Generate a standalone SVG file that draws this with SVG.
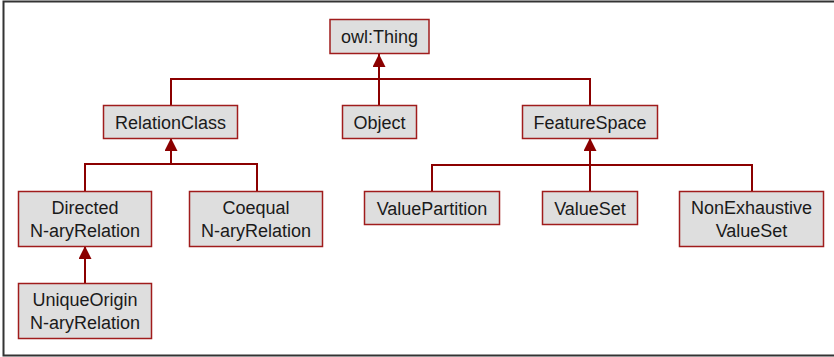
<svg xmlns="http://www.w3.org/2000/svg" width="834" height="357" viewBox="0 0 834 357">
<defs>
<style>
.box{fill:#dedede;stroke:#a01c1c;stroke-width:1.5}
.t{font-family:"Liberation Sans",Arial,sans-serif;font-size:18px;fill:#1a1a1a;text-anchor:middle}
.c{fill:none;stroke:#8b0000;stroke-width:2}
</style>
<marker id="arr" viewBox="0 0 13 13" refX="13" refY="6.5" markerWidth="13" markerHeight="13" markerUnits="userSpaceOnUse" orient="auto">
<path d="M0,0 L13,6.5 L0,13 Z" fill="#8b0000"/>
</marker>
</defs>
<rect width="834" height="357" fill="#fff"/>
<path d="M840,1.5 H3.5 V355.5 H840" fill="none" stroke="#333" stroke-width="2"/>
<g id="connectors">
<path class="c" d="M379,66 V105" stroke-width="1.5"/>
<path class="c" d="M171,105 V79 H590 V105"/>
<path class="c" d="M379,67 V54" marker-end="url(#arr)"/>
<path class="c" d="M85,191 V164 H257 V191"/>
<path class="c" d="M171,164 V138" marker-end="url(#arr)"/>
<path class="c" d="M432,191 V165 H752 V191"/>
<path class="c" d="M590,191 V138" marker-end="url(#arr)"/>
<path class="c" d="M85,283 V246" marker-end="url(#arr)"/>
</g>
<g id="owlThing"><rect class="box" x="330" y="19.5" width="99" height="34"/><text class="t" x="379.5" y="43">owl:Thing</text></g>
<g id="RelationClass"><rect class="box" x="103.5" y="105.5" width="134" height="33"/><text class="t" x="170.5" y="128.5">RelationClass</text></g>
<g id="Object"><rect class="box" x="342.5" y="105.5" width="74" height="33"/><text class="t" x="379.5" y="128.5">Object</text></g>
<g id="FeatureSpace"><rect class="box" x="522.5" y="105.5" width="135" height="33"/><text class="t" x="590" y="128.5">FeatureSpace</text></g>
<g id="DirectedNaryRelation"><rect class="box" x="18.5" y="191.5" width="133" height="55"/><text class="t" x="85" y="214">Directed</text><text class="t" x="85" y="237">N-aryRelation</text></g>
<g id="CoequalNaryRelation"><rect class="box" x="189.5" y="191.5" width="133" height="55"/><text class="t" x="256" y="214">Coequal</text><text class="t" x="256" y="237">N-aryRelation</text></g>
<g id="UniqueOriginNaryRelation"><rect class="box" x="18.5" y="283.5" width="133" height="55"/><text class="t" x="85" y="306">UniqueOrigin</text><text class="t" x="85" y="329">N-aryRelation</text></g>
<g id="ValuePartition"><rect class="box" x="364.5" y="191.5" width="135" height="33"/><text class="t" x="432" y="214.5">ValuePartition</text></g>
<g id="ValueSet"><rect class="box" x="542.5" y="191.5" width="95" height="33"/><text class="t" x="590" y="214.5">ValueSet</text></g>
<g id="NonExhaustiveValueSet"><rect class="box" x="679.5" y="191.5" width="144" height="55"/><text class="t" x="751.5" y="214">NonExhaustive</text><text class="t" x="751.5" y="237">ValueSet</text></g>
</svg>
